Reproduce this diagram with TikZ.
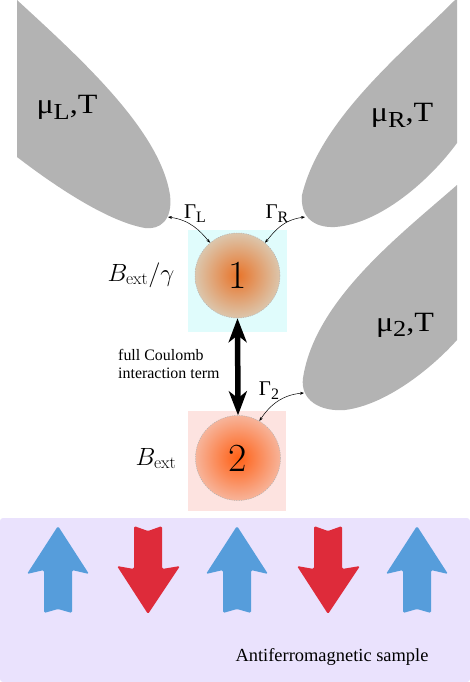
\documentclass[tikz,border=0pt]{standalone}
\usepackage{fix-cm}
\usepackage[no-math]{fontspec}
\setmainfont{Liberation Serif}
\usepackage{graphicx}
\usetikzlibrary{arrows.meta}
\definecolor{leadgray}{HTML}{B3B3B3}
\definecolor{cyanbox}{HTML}{E0FCFC}
\definecolor{pinkbox}{HTML}{FDE3E0}
\definecolor{samplebg}{HTML}{EAE2FD}
\definecolor{spinblue}{HTML}{569DDB}
\definecolor{spinred}{HTML}{DE2B3A}
\definecolor{cAin}{HTML}{E8742A}
\definecolor{cAout}{HTML}{DCC6AC}
\definecolor{cBin}{HTML}{FF6015}
\definecolor{cBout}{HTML}{F7B49A}
\newcommand{\leadlabel}[1]{\scalebox{1.15}[1]{\fontsize{28}{32}\selectfont μ\raisebox{-0.2em}{\fontsize{23}{23}\selectfont #1},T}}
\newcommand{\ratelabel}[1]{\fontsize{21}{24}\selectfont Γ\raisebox{-0.2em}{\fontsize{16}{16}\selectfont #1}}
\tikzset{
  lead/.style={fill=leadgray},
  dot/.style={circle, minimum size=85bp, inner sep=0pt, draw=gray!60,
    line width=0.5pt, dash pattern=on 1.2pt off 1.2pt, shading=radial,
    font=\fontsize{40}{48}\fontfamily{lmr}\selectfont},
  rate/.style={line width=0.5pt, {Stealth[length=4pt,width=3pt]}-{Stealth[length=4pt,width=3pt]}},
  coulomb/.style={line width=5.5bp, {Stealth[length=24bp,width=18bp,inset=7bp]}-{Stealth[length=24bp,width=18bp,inset=7bp]}},
  spin/.style={rounded corners=1.5bp},
  lbl/.style={anchor=base, inner sep=0pt}
}
\begin{document}
\begin{tikzpicture}[x=1bp,y=-1bp]
\useasboundingbox (0,0) rectangle (470,682);
% leads
\fill[lead] (17,0) .. controls (80,58) and (160,130) .. (170,195)
  .. controls (173,220) and (160,230) .. (145,228)
  .. controls (110,222) and (60,190) .. (17,157) -- cycle;
\fill[lead] (455,0) .. controls (400,55) and (320,120) .. (302,195)
  .. controls (300,218) and (315,228) .. (335,227)
  .. controls (380,224) and (430,180) .. (457,143) -- (457,0) -- cycle;
\fill[lead] (457,185) .. controls (400,235) and (315,300) .. (303,378)
  .. controls (300,400) and (320,412) .. (345,410)
  .. controls (385,405) and (430,370) .. (457,340) -- cycle;
\node[lbl] (muL) at (67,114) {\leadlabel{L}};
\node[lbl] (muR) at (402,122) {\leadlabel{R}};
\node[lbl] (mu2) at (405,331) {\leadlabel{2}};
\coordinate (tipL) at (168,217);
\coordinate (tipR) at (305,217);
\coordinate (tip2) at (304,393);
% dot boxes
\fill[cyanbox] (188,230) rectangle (287,332);
\fill[pinkbox] (188,411) rectangle (286,511);
\node[dot, inner color=cAin, outer color=cAout] (c1) at (237.5,275.5) {1};
\node[dot, inner color=cBin, outer color=cBout] (c2) at (238,458) {2};
% rates
\draw[rate] (tipL) .. controls +(22,3) and +(-10,-12) .. (c1.130);
\draw[rate] (tipR) .. controls +(-22,3) and +(10,-12) .. (c1.50);
\draw[rate] (tip2) .. controls +(-25,2) and +(8,-12) .. (c2.60);
\node[lbl] (gL) at (195,218) {\ratelabel{L}};
\node[lbl] (gR) at (277,218) {\ratelabel{R}};
\node[lbl] (g2) at (269,395) {\ratelabel{2}};
% fields
\node[lbl] (b1) at (141,281) {\fontsize{25}{29}\selectfont $B_{\mathrm{ext}}/\gamma$};
\node[lbl] (b2) at (156,465) {\fontsize{25}{29}\selectfont $B_{\mathrm{ext}}$};
% coulomb
\draw[coulomb] (c1.south) -- (c2.north);
\node[anchor=west, align=left, inner sep=0pt, font=\fontsize{16}{18}\selectfont] (cl) at (118,364) {full Coulomb\\interaction term};
% sample
\fill[samplebg, rounded corners=3bp] (0,518) rectangle (470,682);
\foreach \x in {58,237,417}{
  \fill[spinblue, spin, shift={(\x,0)}] (0,526) -- (31,574) -- (14,570) -- (14,613) -- (0,609) -- (-14,613) -- (-14,570) -- (-31,574) -- cycle;
}
\foreach \x in {148,328}{
  \fill[spinred, spin, shift={(\x,0)}] (-14,526) -- (0,531) -- (14,526) -- (14,569) -- (32,566) -- (0,614) -- (-31,566) -- (-14,569) -- cycle;
}
\node[anchor=center, inner sep=0pt, font=\fontsize{18.5}{22}\selectfont] (smp) at (332,657) {Antiferromagnetic sample};
\end{tikzpicture}
\end{document}
